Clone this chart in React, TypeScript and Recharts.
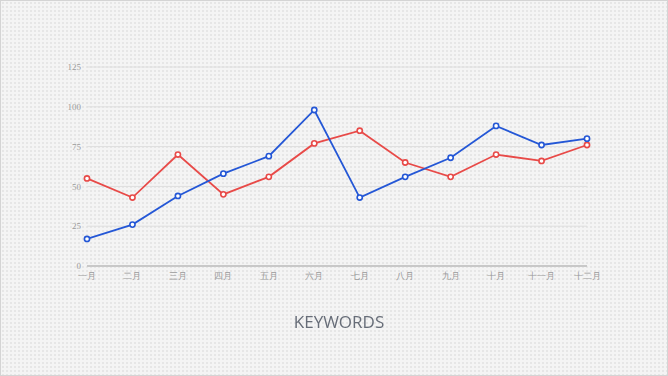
import { LineChart, Line, XAxis, YAxis, CartesianGrid } from 'recharts';

const months = ['一月', '二月', '三月', '四月', '五月', '六月', '七月', '八月', '九月', '十月', '十一月', '十二月'];
const blueValues = [17, 26, 44, 58, 69, 98, 43, 56, 68, 88, 76, 80];
const redValues = [55, 43, 70, 45, 56, 77, 85, 65, 56, 70, 66, 76];
const yTicks = [0, 25, 50, 75, 100, 125];

const data = months.map((m, i) => ({ month: m, blue: blueValues[i], red: redValues[i] }));

const tickStyle = { fontSize: 9, fill: '#9a9a9a', fontFamily: 'serif' };

export default function App() {
  return (
    <div
      style={{
        position: 'fixed',
        left: 0,
        top: 0,
        width: 668,
        height: 376,
        boxSizing: 'border-box',
        border: '1px solid #d4d4d4',
        backgroundColor: '#f4f4f4',
        backgroundImage: 'radial-gradient(#e6e6e6 0.8px, transparent 0.9px)',
        backgroundSize: '4px 4px',
      }}
    >
      <LineChart width={666} height={374} data={data} margin={{ top: 66, right: 80, left: 0, bottom: 79 }}>
        <CartesianGrid vertical={false} stroke="#dedede" />
        <XAxis
          dataKey="month"
          height={30}
          interval={0}
          tick={tickStyle}
          tickLine={false}
          tickSize={4}
          tickMargin={3}
          axisLine={{ stroke: '#c8c8c8', strokeWidth: 2 }}
        />
        <YAxis
          width={86}
          domain={[0, 125]}
          ticks={yTicks}
          tick={tickStyle}
          tickLine={false}
          axisLine={false}
          tickSize={6}
          tickMargin={0}
        />
        <Line
          type="linear"
          dataKey="red"
          stroke="#e84a48"
          strokeWidth={1.8}
          dot={{ r: 2.6, stroke: '#e84a48', strokeWidth: 1.6, fill: '#fff' }}
          isAnimationActive={false}
        />
        <Line
          type="linear"
          dataKey="blue"
          stroke="#2457d6"
          strokeWidth={1.8}
          dot={{ r: 2.6, stroke: '#2457d6', strokeWidth: 1.6, fill: '#fff' }}
          isAnimationActive={false}
        />
      </LineChart>
      <div
        style={{
          position: 'absolute',
          left: 0,
          width: 676,
          top: 309,
          textAlign: 'center',
          fontFamily: '"Open Sans", sans-serif',
          fontSize: 17,
          color: '#676d78',
        }}
      >
        KEYWORDS
      </div>
    </div>
  );
}
